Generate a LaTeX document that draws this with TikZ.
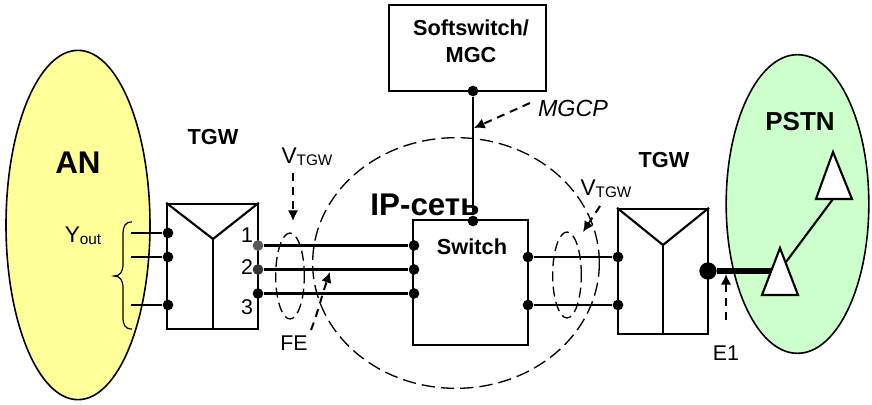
\documentclass[tikz,border=0pt]{standalone}
\usepackage{fontspec}
\setmainfont{Liberation Sans}
\usetikzlibrary{shapes.geometric, arrows.meta}
\definecolor{anyellow}{HTML}{FFFF99}
\definecolor{pstngreen}{HTML}{CCFFCC}
\newcommand{\subtxt}[2]{{\fontsize{17pt}{18pt}\selectfont #1}\raisebox{-1.5pt}{\fontsize{11.5pt}{12pt}\selectfont #2}}
\tikzset{
  netline/.style={line width=1.6pt},
  netbox/.style={draw, line width=1.5pt, rectangle, inner sep=0pt},
  cloud/.style={draw, line width=1.2pt, ellipse, inner sep=0pt},
  ring/.style={draw, line width=1pt, ellipse, inner sep=0pt, dash pattern=on 7.5pt off 4pt},
  dot/.style={circle, fill=black, inner sep=0pt, minimum size=8pt},
  note/.style={line width=1.5pt, dash pattern=on 6pt off 4.5pt, -{Latex[length=8pt,width=8pt]}},
  lbl/.style={font=\fontsize{16pt}{17pt}\selectfont, inner sep=0pt},
  bold/.style={font=\fontsize{16.3pt}{20pt}\selectfont\bfseries, inner sep=0pt, align=center},
  big/.style={font=\fontsize{23.5pt}{25pt}\selectfont\bfseries, inner sep=0pt}
}
\begin{document}
\begin{tikzpicture}[x=0.75pt, y=-0.75pt]
  \useasboundingbox (0,0) rectangle (872,404);
  % Clouds
  \node[cloud, fill=anyellow, minimum width=108pt, minimum height=262pt] (an) at (78,225) {};
  \node[cloud, fill=pstngreen, minimum width=107pt, minimum height=224pt] (pstn) at (797.5,204) {};
  \node[ring, dash pattern=on 10pt off 4.5pt, minimum width=215pt, minimum height=188pt] (ipnet) at (456,263) {};
  % Boxes
  \node[netbox, minimum width=117.5pt, minimum height=64.5pt] (softsw) at (467.75,48) {};
  \node[netbox, minimum width=86.5pt, minimum height=94pt] (switch) at (470.5,282.5) {};
  \node[netbox, minimum width=68pt, minimum height=94pt] (tgwa) at (212.5,266.5) {};
  \node[netbox, minimum width=67.5pt, minimum height=94pt] (tgwb) at (663,271.5) {};
  % Inside of the gateways
  \coordinate (ya) at (213,239);
  \coordinate (yb) at (663,245);
  \draw[netline] (tgwa.north west) -- (ya) -- (tgwa.north east);
  \draw[netline] (ya) -- (ya |- tgwa.south);
  \draw[netline] (tgwb.north west) -- (yb) -- (tgwb.north east);
  \draw[netline] (yb) -- (yb |- tgwb.south);
  % Dots
  \node[dot] (ain1) at (168,233) {};
  \node[dot] (ain2) at (168,257) {};
  \node[dot] (ain3) at (168,305) {};
  \node[dot, fill=black!65] (aout1) at (258,245.5) {};
  \node[dot, fill=black!80] (aout2) at (258,269.5) {};
  \node[dot] (aout3) at (258,293.5) {};
  \node[dot] (swl1) at (414,245.5) {};
  \node[dot] (swl2) at (414,269.5) {};
  \node[dot] (swl3) at (414,293.5) {};
  \node[dot] (swr1) at (528,257) {};
  \node[dot] (swr2) at (528,305) {};
  \node[dot] (bin1) at (618,257) {};
  \node[dot] (bin2) at (618,305) {};
  \node[dot] (softdot) at (473,91) {};
  \node[dot] (swtop) at (473,221) {};
  \node[dot, minimum size=13pt] (bout) at (708,271) {};
  % Links
  \coordinate (yout1) at (131,233);
  \coordinate (yout2) at (131,257);
  \coordinate (yout3) at (131,305);
  \draw[netline] (yout1) -- (ain1);
  \draw[netline] (yout2) -- (ain2);
  \draw[netline] (yout3) -- (ain3);
  \draw[netline] (aout1) -- (swl1);
  \draw[netline] (aout2) -- (swl2);
  \draw[netline] (aout3) -- (swl3);
  \draw[netline] (swr1) -- (bin1);
  \draw[netline] (swr2) -- (bin2);
  \draw[netline] (softdot) -- (swtop);
  % Brace
  \draw[line width=0.9pt] (132,222) .. controls (125,222) and (123,226) .. (123,235) -- (123,264)
      .. controls (123,272) and (120,276) .. (114,276)
      .. controls (120,276) and (123,280) .. (123,288) -- (123,317)
      .. controls (123,325) and (125,329) .. (132,329);
  % Rings
  \node[ring, minimum width=21.5pt, minimum height=64.5pt] (ringa) at (290,276) {};
  \node[ring, minimum width=21.5pt, minimum height=64.5pt] (ringb) at (567,275) {};
  % Trunk and triangles
  \coordinate (tri1) at (772,271);
  \coordinate (tri2) at (833,199);
  \coordinate (tri3) at (786,262);
  \draw[netline] (tri2) -- (tri3);
  \draw[line width=3.8pt] (bout) -- (tri1);
  \draw[netline, fill=white] (780,248) -- (798,295) -- (762,295) -- cycle;
  \draw[netline, fill=white] (833,152) -- (852,199) -- (816,199) -- cycle;
  % Labels
  \node[big] (anlbl) at (78,163) {AN};
  \node[bold, font=\fontsize{19.5pt}{20pt}\selectfont\bfseries] (pstnlbl) at (800,122) {PSTN};
  \node[big] (iplbl) at (425,205) {IP-сеть};
  \node[bold] (softlbl) at (471,41) {Softswitch/\\MGC};
  \node[bold] (swlbl) at (472,247) {Switch};
  \node[bold] (tgwalbl) at (213,137) {TGW};
  \node[bold] (tgwblbl) at (664,160) {TGW};
  \node[lbl] (youtlbl) at (83,236) {\subtxt{Y}{out}};
  \node[lbl] (nr1) at (247,235) {1};
  \node[lbl] (nr2) at (247,267) {2};
  \node[lbl] (nr3) at (247,307) {3};
  \node[lbl] (felbl) at (294,343) {FE};
  \node[lbl] (e1lbl) at (726,353) {E1};
  \node[lbl] (vlbla) at (307,157) {\subtxt{V}{TGW}};
  \node[lbl] (vlblb) at (606,189) {\subtxt{V}{TGW}};
  \node[lbl, font=\fontsize{17.5pt}{18pt}\selectfont\itshape] (mgcplbl) at (573,108) {MGCP};
  % Arrows to the labels
  \coordinate (vatip) at (293,221);
  \coordinate (vbtip) at (583,232);
  \coordinate (mgtip) at (474,128);
  \coordinate (e1tip) at (726,274);
  \coordinate (fetip) at (330,272);
  \draw[note] (293,173) -- (vatip);
  \draw[note] (600,206) -- (vbtip);
  \draw[note] (530,103) -- (mgtip);
  \draw[note] (726,320) -- (e1tip);
  \draw[note] (311,330) .. controls (318,312) and (322,295) .. (fetip);
\end{tikzpicture}
\end{document}
